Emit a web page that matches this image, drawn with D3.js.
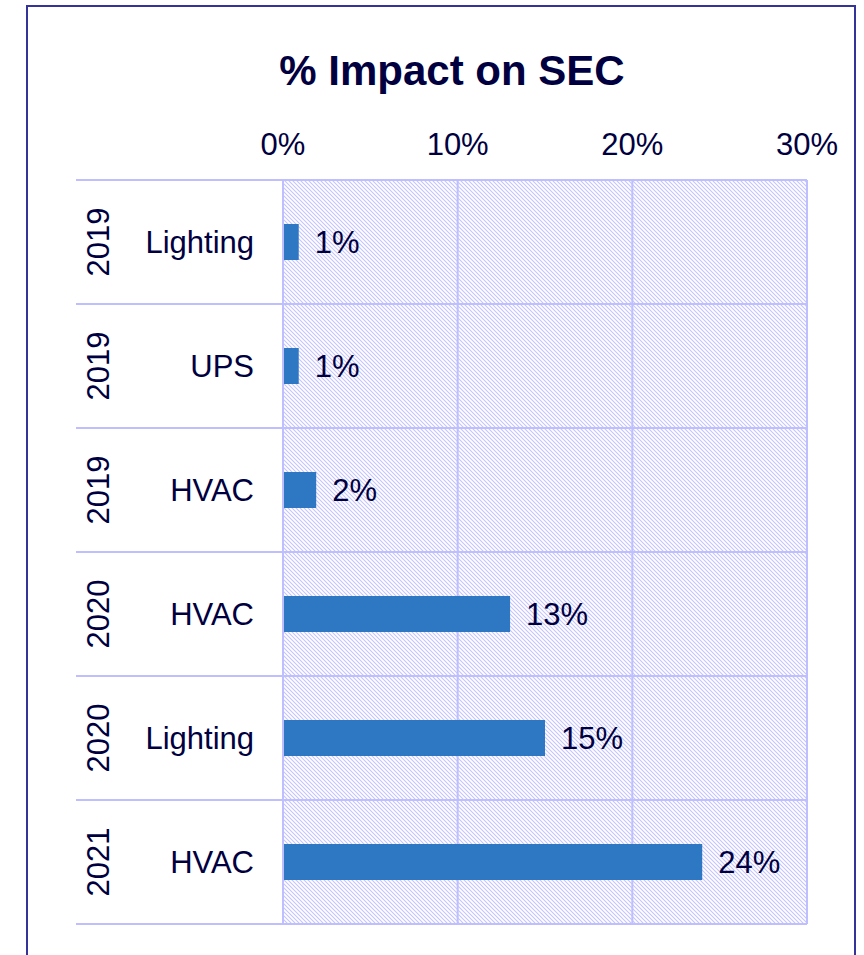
<!DOCTYPE html>
<html>
<head>
<meta charset="utf-8">
<script src="https://cdn.jsdelivr.net/npm/d3@7"></script>
<style>
  body { margin: 0; background: #fff; }
  text { font-family: "Liberation Sans", Arial, sans-serif; fill: #000040; }
</style>
</head>
<body>
<div id="chart"></div>
<script>

var width = 864;
var height = 955;

// data
var years = ["2019", "2019", "2019", "2020", "2020", "2021"];
var categories = ["Lighting", "UPS", "HVAC", "HVAC", "Lighting", "HVAC"];
var values = [0.009, 0.009, 0.019, 0.13, 0.15, 0.24];
var valueLabels = ["1%", "1%", "2%", "13%", "15%", "24%"];
var ticks = [0, 0.1, 0.2, 0.3];

var plot = { left: 283, right: 807, top: 180, bottom: 924 };
var labelLeft = 76;
var gridColor = "#bfbfff";
var fontSize = 31;

var svg = d3.select("#chart")
    .append("svg")
        .attr("width", width)
        .attr("height", height)
        ;

// hatch fill for the plot area
var pat = svg.append("defs")
    .append("pattern")
        .attr("id", "hatch")
        .attr("patternUnits", "userSpaceOnUse")
        .attr("width", 4)
        .attr("height", 4)
        ;
pat.append("path")
    .attr("d", "M-1,-1 L5,5 M-1,3 L1,5 M3,-1 L5,1")
    .attr("stroke", "#c4c4ff")
    .attr("stroke-width", 1.1)
    ;

// outer frame (open at the bottom)
svg.append("path")
    .attr("d", "M27,955 L27,6 L855,6 L855,955")
    .attr("fill", "none")
    .attr("stroke", "#333399")
    .attr("stroke-width", 2)
    ;

svg.append("text")
    .attr("x", 452)
    .attr("y", 85)
    .attr("text-anchor", "middle")
    .attr("font-size", "42px")
    .attr("font-weight", "bold")
    .text("% Impact on SEC")
    ;

var x = d3.scaleLinear()
    .domain([0, 0.3])
    .range([plot.left, plot.right])
    ;

var y = d3.scaleBand()
    .domain(d3.range(values.length))
    .range([plot.top, plot.bottom])
    ;

svg.append("rect")
    .attr("x", plot.left)
    .attr("y", plot.top)
    .attr("width", plot.right - plot.left)
    .attr("height", plot.bottom - plot.top)
    .attr("fill", "url(#hatch)")
    ;

// vertical grid lines
svg.selectAll(".vgrid")
    .data(ticks)
    .enter().append("line")
        .attr("class", "vgrid")
        .attr("x1", function(d) { return x(d); })
        .attr("x2", function(d) { return x(d); })
        .attr("y1", plot.top)
        .attr("y2", plot.bottom)
        .attr("stroke", gridColor)
        .attr("stroke-width", 2)
        ;

// horizontal row lines, extended across the label columns
var rowEdges = d3.range(values.length + 1).map(function(i) {
    return i < values.length ? y(i) : plot.bottom;
});
svg.selectAll(".hgrid")
    .data(rowEdges)
    .enter().append("line")
        .attr("class", "hgrid")
        .attr("x1", labelLeft)
        .attr("x2", plot.right)
        .attr("y1", function(d) { return d; })
        .attr("y2", function(d) { return d; })
        .attr("stroke", gridColor)
        .attr("stroke-width", 2)
        ;

// tick labels on top
svg.selectAll(".tick")
    .data(ticks)
    .enter().append("text")
        .attr("class", "tick")
        .attr("x", function(d) { return x(d); })
        .attr("y", 155)
        .attr("text-anchor", "middle")
        .attr("font-size", fontSize + "px")
        .text(d3.format(".0%"))
        ;

var barH = 36;

svg.selectAll(".bar")
    .data(values)
    .enter().append("rect")
        .attr("class", "bar")
        .attr("x", x(0) + 1)
        .attr("y", function(d, i) { return y(i) + y.bandwidth() / 2 - barH / 2; })
        .attr("width", function(d) { return x(d) - x(0) - 1; })
        .attr("height", barH)
        .attr("fill", "#2e77c2")
        ;

svg.selectAll(".val")
    .data(values)
    .enter().append("text")
        .attr("class", "val")
        .attr("x", function(d) { return x(d) + 16; })
        .attr("y", function(d, i) { return y(i) + y.bandwidth() / 2 + 11; })
        .attr("font-size", fontSize + "px")
        .text(function(d, i) { return valueLabels[i]; })
        ;

svg.selectAll(".cat")
    .data(categories)
    .enter().append("text")
        .attr("class", "cat")
        .attr("x", 254)
        .attr("y", function(d, i) { return y(i) + y.bandwidth() / 2 + 11; })
        .attr("text-anchor", "end")
        .attr("font-size", fontSize + "px")
        .text(function(d) { return d; })
        ;

svg.selectAll(".year")
    .data(years)
    .enter().append("text")
        .attr("class", "year")
        .attr("transform", function(d, i) {
            return "translate(109," + (y(i) + y.bandwidth() / 2) + ") rotate(-90)";
        })
        .attr("text-anchor", "middle")
        .attr("font-size", fontSize + "px")
        .text(function(d) { return d; })
        ;

</script>
</body>
</html>
